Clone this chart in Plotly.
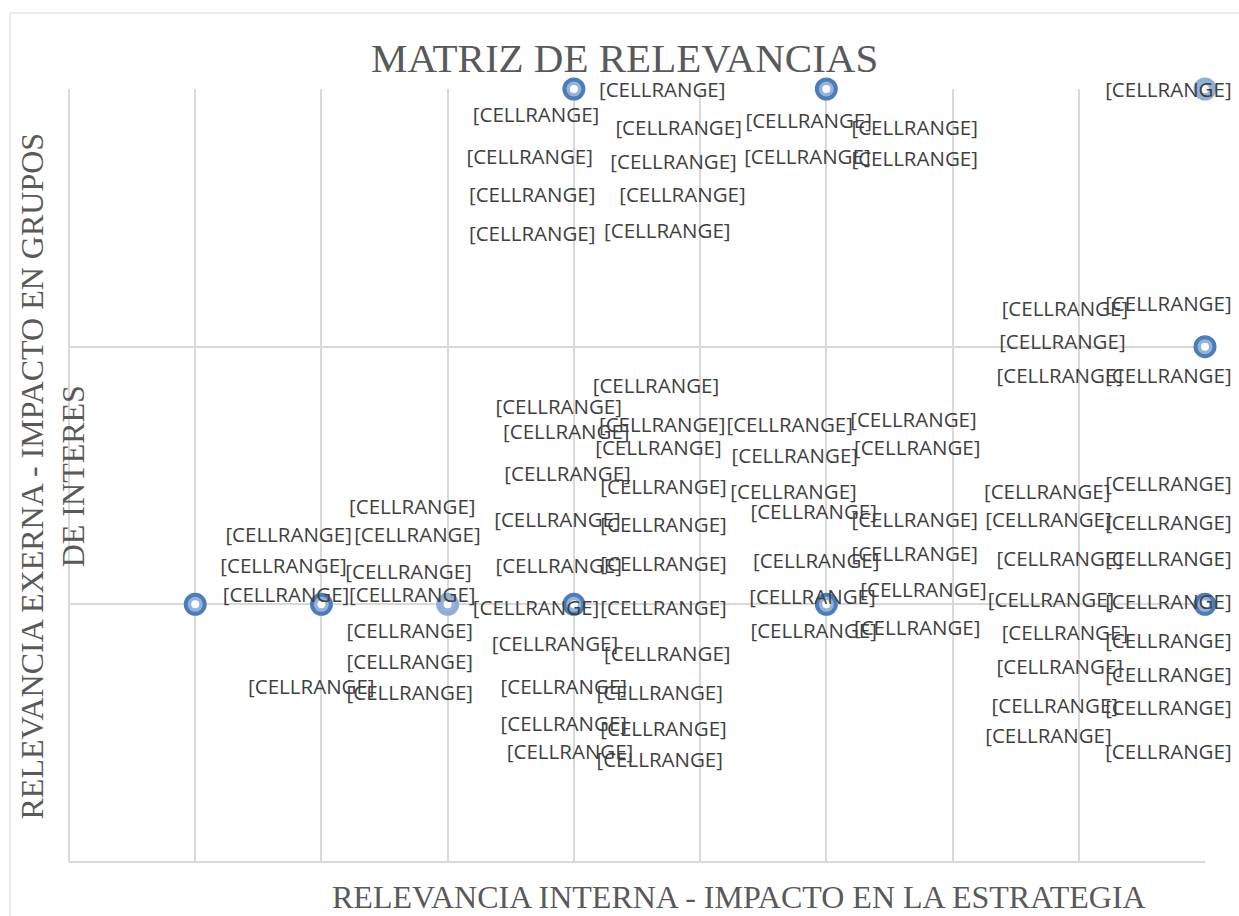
import plotly.graph_objects as go

# points of the matrix (internal relevance, external relevance)
dark_x = [1, 2, 4, 6, 9, 9, 4, 6]
dark_y = [1, 1, 1, 1, 1, 2, 3, 3]
light_x = [3, 9]
light_y = [1, 3]

# data labels as dragged around in the original chart (data coords)
label_x = [
    4.70, 3.70, 4.83, 5.86, 6.70, 3.65, 4.79, 5.85, 6.70, 3.67, 4.86, 3.67, 4.74, 8.71,
    7.89, 8.71, 7.87, 7.85, 8.71,
    4.65, 3.88, 3.94, 4.70, 4.67, 3.95, 4.71, 3.87, 4.71, 3.88, 4.71, 3.70, 4.71,
    3.85, 4.74, 3.92, 4.68, 3.92, 4.71, 3.97, 4.68,
    2.72, 1.74, 2.76, 1.70, 2.69, 1.72, 2.72, 2.70, 2.70, 1.92, 2.70,
    5.71, 6.69, 5.75, 6.72, 5.74, 5.90, 6.70, 5.92, 6.70, 5.89, 6.77, 5.90, 6.72,
    7.75, 8.71, 7.76, 8.71, 7.85, 8.71, 7.78, 8.71, 7.89, 8.71, 7.85, 8.71, 7.81, 8.71, 7.76, 8.71,
]
label_y = [
    2.99, 2.89, 2.84, 2.87, 2.84, 2.73, 2.71, 2.73, 2.72, 2.58, 2.58, 2.43, 2.44, 2.99,
    2.14, 2.16, 2.01, 1.88, 1.88,
    1.84, 1.76, 1.66, 1.69, 1.60, 1.50, 1.45, 1.32, 1.30, 1.14, 1.15, 0.98, 0.98,
    0.84, 0.80, 0.67, 0.65, 0.53, 0.51, 0.42, 0.39,
    1.37, 1.26, 1.26, 1.14, 1.12, 1.03, 1.03, 0.89, 0.77, 0.67, 0.65,
    1.69, 1.71, 1.57, 1.60, 1.43, 1.35, 1.32, 1.16, 1.19, 1.02, 1.05, 0.89, 0.90,
    1.43, 1.46, 1.32, 1.31, 1.17, 1.17, 1.01, 1.00, 0.88, 0.85, 0.75, 0.72, 0.60, 0.59, 0.48, 0.42,
]
label_text = ["[CELLRANGE]"] * len(label_x)

title_text = "MATRIZ DE RELEVANCIAS"
x_title = "RELEVANCIA INTERNA - IMPACTO EN LA ESTRATEGIA"
y_title = "RELEVANCIA EXERNA - IMPACTO EN GRUPOS<br>DE INTERES"

fig = go.Figure()

# ring markers: dark outline + light fill, then a white dot in the middle
fig.add_trace(go.Scatter(
    x=dark_x, y=dark_y, mode='markers', cliponaxis=False, hoverinfo='skip',
    marker=dict(size=19, color='#95B3D7', line=dict(width=4, color='#4A7EBB')),
))
fig.add_trace(go.Scatter(
    x=light_x, y=light_y, mode='markers', cliponaxis=False, hoverinfo='skip',
    marker=dict(size=19, color='#95B3D7', line=dict(width=4, color='#8FAFD9')),
))
fig.add_trace(go.Scatter(
    x=dark_x + light_x, y=dark_y + light_y, mode='markers', cliponaxis=False, hoverinfo='skip',
    marker=dict(size=8, color='white', line=dict(width=0)),
))

fig.add_trace(go.Scatter(
    x=label_x, y=label_y, text=label_text, mode='text', cliponaxis=False,
    textposition='middle center',
    textfont=dict(family='Open Sans', size=20.5, color='#404040'),
))

axis_style = dict(
    showgrid=True, gridcolor='#D9D9D9', gridwidth=1.5,
    zeroline=True, zerolinecolor='#D9D9D9', zerolinewidth=1.5,
    showticklabels=False, ticks='', showline=False, dtick=1,
)

fig.update_layout(
    width=1239,
    height=916,
    margin=dict(l=69, r=34, t=89, b=54),
    plot_bgcolor='white',
    paper_bgcolor='white',
    showlegend=False,
    xaxis=dict(range=[0, 9], **axis_style),
    yaxis=dict(range=[0, 3], **axis_style),
    annotations=[
        dict(text=title_text, xref='paper', yref='paper', x=0.489, y=1.040,
             xanchor='center', yanchor='middle', showarrow=False,
             font=dict(family='Liberation Serif', size=41, color='#595959')),
        dict(text=x_title, xref='paper', yref='paper', x=0.590, y=-0.045,
             xanchor='center', yanchor='middle', showarrow=False,
             font=dict(family='Liberation Serif', size=32, color='#595959')),
        dict(text=y_title, xref='paper', yref='paper', x=-0.0145, y=0.4994,
             xanchor='center', yanchor='middle', showarrow=False, textangle=-90,
             font=dict(family='Liberation Serif', size=32, color='#595959')),
    ],
    shapes=[
        dict(type='rect', xref='paper', yref='paper', x0=-0.0519, y0=-0.3, x1=1.3, y1=1.0983,
             line=dict(color='#D9D9D9', width=1), fillcolor='rgba(0,0,0,0)', layer='below'),
    ],
)

fig.write_html("out.html", config=dict(displayModeBar=False),
               post_script="document.body.style.margin='0';document.body.style.overflow='hidden';")
